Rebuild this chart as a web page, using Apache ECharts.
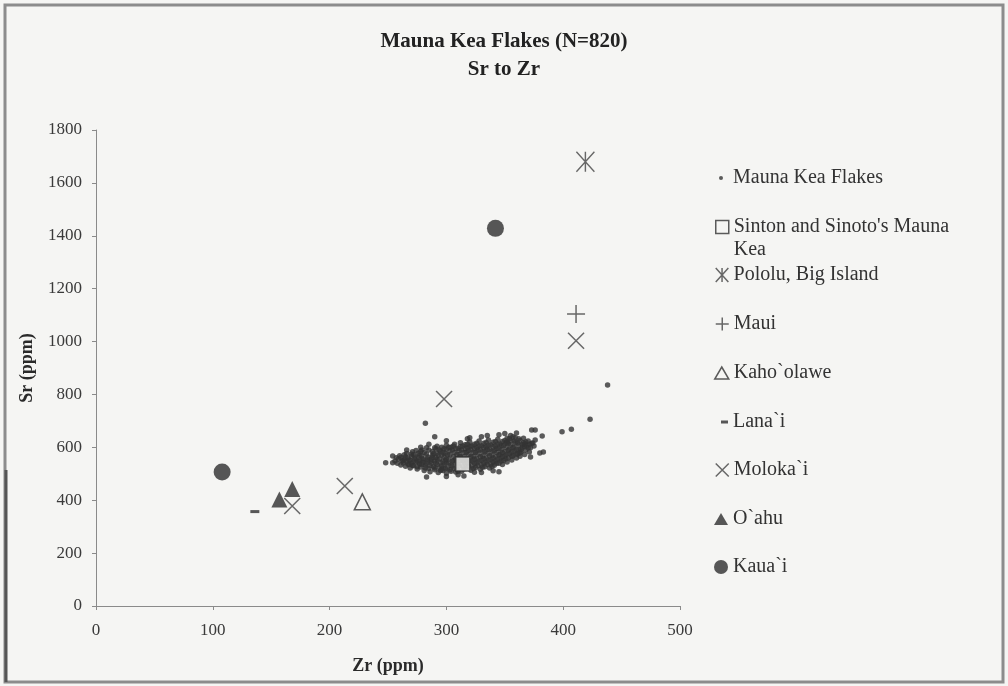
<!DOCTYPE html>
<html>
<head>
<meta charset="utf-8">
<title>Mauna Kea Flakes (N=820) Sr to Zr</title>
<script src="https://cdn.jsdelivr.net/npm/echarts@6/dist/echarts.min.js"></script>
<style>
  html, body { margin: 0; padding: 0; background: #f5f5f3; }
  #chart { width: 1008px; height: 686px; }
</style>
</head>
<body>
<div id="chart"></div>
<script>
// Zr (ppm), Sr (ppm)
const flakes = [
  [248,542],[254,567],[254,542],[256,548],[257,561],[258,540],[259,556],[260,568],
  [261,533],[262,549],[261,562],[263,541],[264,555],[264,572],[265,528],
  [266,546],[267,560],[266,577],[268,535],[269,522],[269,551],[270,566],[270,540],[271,583],
  [272,530],[273,556],[272,572],[274,545],[274,588],[275,518],[276,562],[276,578],[277,537],[277,551],
  [278,526],[279,568],[279,590],[280,544],[280,557],[281,512],
  [282,532],[283,575],[283,598],[284,548],[284,563],[285,520],
  [286,508],[287,540],[287,556],[288,584],[288,570],[289,527],
  [290,515],[290,548],[291,595],[291,562],[292,578],[292,535],[292,604],
  [293,505],[294,523],[294,556],[295,542],[295,586],[296,570],[296,600],
  [297,512],[298,532],[298,563],[299,549],[299,578],[300,593],[300,608],[300,502],
  [301,520],[302,540],[302,556],[303,572],[303,587],[304,600],[304,510],
  [305,528],[306,548],[306,565],[307,580],[307,612],[308,595],[308,507],
  [309,518],[310,537],[310,557],[311,573],[311,588],[312,603],[312,617],
  [313,510],[314,528],[314,547],[315,564],[315,580],[316,596],[316,610],
  [317,520],[318,540],[318,556],[319,572],[319,588],[320,604],[320,620],
  [321,513],[322,531],[322,548],[323,565],[323,581],[324,597],[324,612],
  [325,524],[326,541],[326,557],[327,574],[327,590],[328,606],[328,624],
  [329,517],[330,533],[330,550],[331,566],[331,583],[332,599],[332,615],
  [333,527],[334,544],[334,560],[335,577],[335,593],[336,609],[336,628],
  [337,522],[338,537],[338,553],[339,570],[339,586],[340,602],[340,619],
  [341,532],[342,548],[342,564],[343,580],[343,596],[344,613],[344,631],
  [345,540],[346,557],[346,573],[347,590],[347,606],[348,622],[348,535],
  [349,550],[350,566],[350,583],[351,599],[351,616],[352,634],[352,545],
  [353,560],[354,576],[354,593],[355,609],[355,625],[356,552],
  [357,568],[358,585],[358,601],[359,618],[359,636],[360,560],
  [361,575],[362,592],[362,609],[363,626],[363,566],
  [364,583],[365,600],[366,617],[366,634],[367,573],
  [368,590],[369,607],[370,624],[371,582],
  [372,598],[373,615],[375,605],[376,628],
  [263,548],[265,563],[267,537],[268,552],[270,575],[271,531],[272,547],[273,563],
  [275,527],[276,545],[277,570],[278,585],[279,535],[280,552],[281,580],[282,522],
  [283,540],[284,556],[285,590],[286,530],[287,548],[288,563],[289,577],[290,598],
  [290,522],[291,540],[292,555],[293,570],[294,590],[295,512],[296,530],[297,548],
  [297,580],[298,595],[299,520],[300,540],[300,556],[301,572],[302,600],[303,515],
  [304,532],[305,548],[305,590],[306,605],[307,520],[308,540],[308,557],[309,573],
  [310,597],[310,510],[311,528],[312,548],[312,565],[313,590],[314,605],[315,518],
  [316,538],[316,555],[317,580],[318,598],[318,612],[319,528],[320,548],[321,565],
  [321,590],[322,605],[323,520],[324,540],[324,556],[325,580],[326,598],[326,615],
  [327,530],[328,548],[329,565],[329,590],[330,606],[331,525],[332,541],[332,558],
  [333,582],[334,600],[334,618],[335,535],[336,552],[337,568],[337,592],[338,610],
  [339,528],[340,545],[340,560],[341,586],[342,604],[342,622],[343,540],[344,556],
  [345,572],[345,596],[346,614],[347,548],[348,565],[348,580],[349,606],[350,626],
  [351,557],[352,575],[353,590],[353,614],[354,632],[356,566],[356,583],[357,600],
  [358,624],[360,575],[360,592],[361,616],[362,632],[364,592],[365,610],[367,602],
  [368,620],[370,598],[371,612],
  [282,691],[283,488],[357,640],[360,654],[363,579],[367,613],[372,563],[373,666],
  [376,666],[374,616],[380,579],[383,582],[382,643],[399,659],[407,668],[423,706],
  [438,836],[290,640],[278,600],[345,508],[330,505],[310,496],[285,612],[300,625],
  [318,632],[335,645],[266,590],[296,517],[324,506],[352,620],[340,511],
  [345,648],[350,652],[355,645],[330,640],[320,636],[300,490],[315,492]
];
const sinton = [[314, 537]];
const pololu = [[419, 1680]];
const maui = [[411, 1104]];
const kahoolawe = [[228, 394]];
const lanai = [[136, 357]];
const molokai = [[411, 1003], [298, 783], [213, 454], [168, 378]];
const oahu = [[157, 403], [168, 442]];
const kauai = [[108, 507], [342, 1428]];

const xTicks = [0, 100, 200, 300, 400, 500];
const yTicks = [0, 200, 400, 600, 800, 1000, 1200, 1400, 1600, 1800];

const FONT = '"Liberation Serif", "Times New Roman", serif';
const INK = '#2e2e2e';
const PAPER = '#f5f5f3';

const STAR = 'path://M0,0L18,20M18,0L0,20M9,0L9,20';
const PLUS = 'path://M0,9L18,9M9,0L9,18';
const CROSS = 'path://M0,0L16,16M16,0L0,16';

const lineMark = { color: 'transparent', borderColor: '#444', borderWidth: 1.5 };
const hollowMark = { color: PAPER, borderColor: '#333', borderWidth: 1.5 };
const solidMark = { color: INK };

const series = [
  { name: 'Mauna Kea Flakes', data: flakes, symbol: 'circle', symbolSize: 5.5, itemStyle: { color: '#333' } },
  { name: "Sinton and Sinoto's Mauna Kea", data: sinton, symbol: 'rect', symbolSize: 14, itemStyle: hollowMark },
  { name: 'Pololu, Big Island', data: pololu, symbol: STAR, symbolSize: [18, 20], itemStyle: lineMark },
  { name: 'Maui', data: maui, symbol: PLUS, symbolSize: 18, itemStyle: lineMark },
  { name: 'Kaho`olawe', data: kahoolawe, symbol: 'triangle', symbolSize: 16, itemStyle: hollowMark },
  { name: 'Lana`i', data: lanai, symbol: 'rect', symbolSize: [9, 3], itemStyle: solidMark },
  { name: 'Moloka`i', data: molokai, symbol: CROSS, symbolSize: 16, itemStyle: lineMark },
  { name: 'O`ahu', data: oahu, symbol: 'triangle', symbolSize: 16, itemStyle: solidMark },
  { name: 'Kaua`i', data: kauai, symbol: 'circle', symbolSize: 17, itemStyle: solidMark }
];

// one legend per entry so each row sits where the scan has it
// dx: shift for icons whose drawn box is narrower than itemWidth
const legendRows = [
  { name: 'Mauna Kea Flakes', icon: 'circle', w: 14, h: 4, cy: 176, dx: 5, style: { color: '#333' } },
  { name: "Sinton and Sinoto's Mauna Kea", icon: 'rect', w: 13, h: 13, cy: 225, style: hollowMark, wrap: true },
  { name: 'Pololu, Big Island', icon: STAR, w: 13, h: 14, cy: 273, style: lineMark },
  { name: 'Maui', icon: PLUS, w: 13, h: 13, cy: 322, style: lineMark },
  { name: 'Kaho`olawe', icon: 'triangle', w: 14, h: 12, cy: 371, style: hollowMark },
  { name: 'Lana`i', icon: 'rect', w: 7, h: 3, cy: 420, style: solidMark },
  { name: 'Moloka`i', icon: CROSS, w: 13, h: 13, cy: 468, style: lineMark },
  { name: 'O`ahu', icon: 'triangle', w: 14, h: 12, cy: 517, style: solidMark },
  { name: 'Kaua`i', icon: 'circle', w: 14, h: 14, cy: 565, style: solidMark }
];

const legends = legendRows.map(r => ({
  left: 728 - r.w + (r.dx || 0),
  top: r.wrap ? r.cy - 34.5 + 2 : r.cy - 12 + 2,
  padding: 0,
  orient: 'vertical',
  selectedMode: false,
  itemWidth: r.w,
  itemHeight: r.h,
  data: [{ name: r.name, icon: r.icon, itemStyle: r.style }],
  formatter: r.wrap ? () => "\nSinton and Sinoto's Mauna\nKea" : undefined,
  textStyle: { fontFamily: FONT, fontSize: 20, color: '#333', lineHeight: r.wrap ? 23 : 24 }
}));

const myChart = echarts.init(document.getElementById('chart'));
const option = {
  backgroundColor: PAPER,
  animation: false,
  title: {
    text: 'Mauna Kea Flakes (N=820)\nSr to Zr',
    left: 499,
    top: 23,
    textAlign: 'center',
    textStyle: { fontFamily: FONT, fontSize: 21, fontWeight: 'bold', color: '#222', lineHeight: 28 }
  },
  legend: legends,
  grid: { left: 96, right: 328, top: 130, bottom: 80, containLabel: false, outerBoundsMode: 'none' },
  xAxis: {
    type: 'value',
    min: xTicks[0],
    max: xTicks[xTicks.length - 1],
    interval: xTicks[1] - xTicks[0],
    name: 'Zr (ppm)',
    nameLocation: 'middle',
    nameGap: 51,
    nameTextStyle: { fontFamily: FONT, fontSize: 18, fontWeight: 'bold', color: '#2a2a2a' },
    axisLine: { show: true, lineStyle: { color: '#8a8a8a', width: 1 } },
    axisTick: { show: true, length: 4, lineStyle: { color: '#8a8a8a' } },
    axisLabel: { margin: 16, fontFamily: FONT, fontSize: 17, color: '#3a3a3a', formatter: v => String(v) },
    splitLine: { show: false }
  },
  yAxis: {
    type: 'value',
    min: yTicks[0],
    max: yTicks[yTicks.length - 1],
    interval: yTicks[1] - yTicks[0],
    name: 'Sr (ppm)',
    nameLocation: 'middle',
    nameGap: 60,
    nameTextStyle: { fontFamily: FONT, fontSize: 18, fontWeight: 'bold', color: '#2a2a2a' },
    axisLine: { show: true, lineStyle: { color: '#8a8a8a', width: 1 } },
    axisTick: { show: true, length: 4, lineStyle: { color: '#8a8a8a' } },
    axisLabel: { margin: 14, fontFamily: FONT, fontSize: 17, color: '#3a3a3a', formatter: v => String(v) },
    splitLine: { show: false }
  },
  graphic: [
    { type: 'rect', shape: { x: 5, y: 5, width: 998, height: 677 }, style: { fill: 'none', stroke: '#8c8c8c', lineWidth: 3 }, silent: true },
    { type: 'line', shape: { x1: 6, y1: 470, x2: 6, y2: 682 }, style: { stroke: '#555', lineWidth: 3 }, silent: true }
  ],
  series: series.map(s => Object.assign({ type: 'scatter' }, s))
};
myChart.setOption(option);
</script>
</body>
</html>
